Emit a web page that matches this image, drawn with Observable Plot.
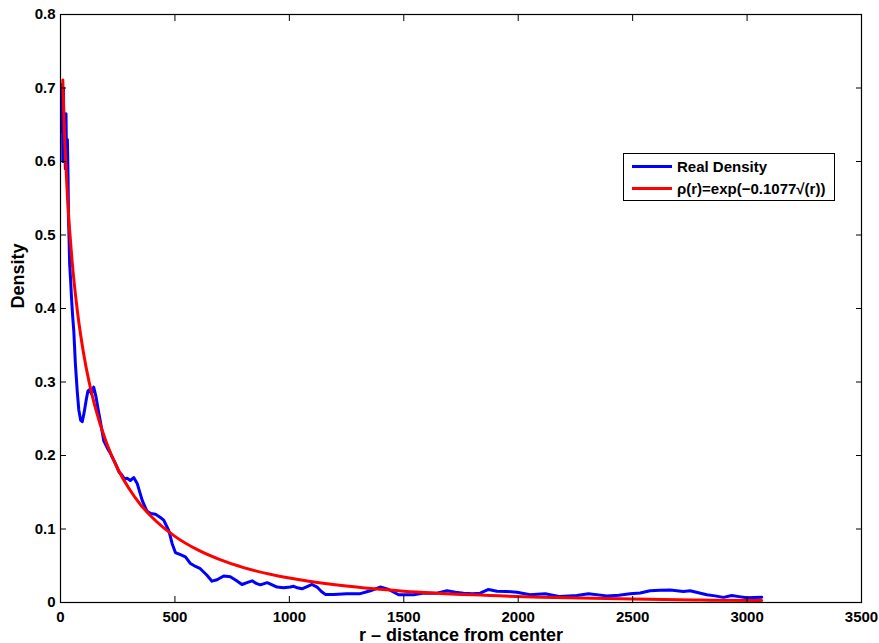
<!DOCTYPE html>
<html>
<head>
<meta charset="utf-8">
<script src="https://cdn.jsdelivr.net/npm/d3@7"></script>
<script src="https://cdn.jsdelivr.net/npm/@observablehq/plot@0.6"></script>
<style>
  html, body { margin: 0; padding: 0; background: #fff; }
  #wrap { position: relative; width: 879px; height: 643px; font-family: "Liberation Sans", Arial, Helvetica, sans-serif; }
  #legend { position: absolute; left: 623px; top: 153px; width: 210px; height: 46px; border: 1px solid #000; background: #fff; box-sizing: content-box; }
  #legend svg { display: block; }
</style>
</head>
<body>
<div id="wrap"></div>
<script>
// Real density
const rReal = [5,8,10,13,15,18,21,24,27,30,33,35,37,40,44,48,53,58,65,73,80,88,95,103,112,120,128,135,145,155,165,175,189,205,218,240,255,269,280,291,305,320,335,357,378,395,415,435,451,473,488,502,524,546,568,590,611,640,662,684,713,742,768,793,815,837,855,873,903,925,946,975,1004,1019,1035,1055,1080,1099,1121,1140,1157,1194,1250,1310,1354,1397,1434,1477,1543,1587,1645,1689,1725,1761,1800,1834,1870,1907,1950,1994,2052,2118,2183,2256,2307,2387,2440,2489,2533,2576,2620,2664,2722,2751,2824,2860,2897,2933,2965,2999,3064];
const densityReal = [0.64,0.705,0.60,0.70,0.61,0.665,0.59,0.665,0.585,0.63,0.58,0.52,0.50,0.46,0.44,0.415,0.39,0.37,0.325,0.288,0.262,0.248,0.246,0.258,0.275,0.288,0.29,0.284,0.293,0.28,0.262,0.245,0.220,0.21,0.203,0.189,0.178,0.173,0.168,0.169,0.166,0.170,0.162,0.139,0.124,0.121,0.120,0.116,0.112,0.098,0.080,0.068,0.065,0.062,0.053,0.049,0.046,0.037,0.029,0.031,0.036,0.035,0.030,0.0245,0.027,0.0295,0.026,0.024,0.027,0.024,0.021,0.020,0.021,0.022,0.020,0.0186,0.022,0.0245,0.021,0.015,0.011,0.011,0.012,0.012,0.016,0.021,0.0177,0.0105,0.0105,0.013,0.0127,0.016,0.014,0.0127,0.012,0.0127,0.0177,0.0154,0.015,0.014,0.0105,0.012,0.008,0.0095,0.012,0.009,0.010,0.012,0.013,0.016,0.0165,0.017,0.015,0.016,0.0105,0.009,0.007,0.0095,0.008,0.0064,0.0072];

// Fitted curve rho(r)
const rFit = [10,15,20,30,40,50,75,100,125,150,200,250,300,350,400,500,600,700,800,1000,1200,1500,1800,2100,2500,2800,3064];
const densityFit = [0.711,0.659,0.618,0.554,0.506,0.467,0.3935,0.3406,0.300,0.2674,0.218,0.182,0.1548,0.133,0.116,0.090,0.0715,0.0579,0.0475,0.0332,0.0240,0.0154,0.0104,0.0072,0.0046,0.0033,0.0026];

const xTicks = [0,500,1000,1500,2000,2500,3000,3500];
const yTicks = [0,0.1,0.2,0.3,0.4,0.5,0.6,0.7,0.8];
const yTickLabels = ["0","0.1","0.2","0.3","0.4","0.5","0.6","0.7","0.8"];

const xLabel = "r \u2013 distance from center";
const yLabel = "Density";
const legendLabels = ["Real Density", "\u03c1(r)=exp(\u22120.1077\u221a(r))"];
const legendColors = ["#0000ff", "#ff0000"];

const realData = rReal.map((r, i) => ({r, d: densityReal[i]}));
const fitData = rFit.map((r, i) => ({r, d: densityFit[i]}));

const fontFamily = "'Liberation Sans', Arial, Helvetica, sans-serif";

const chart = Plot.plot({
  width: 879,
  height: 643,
  marginLeft: 60,
  marginRight: 18,
  marginTop: 14,
  marginBottom: 41,
  style: {fontFamily, fontWeight: "bold", fontSize: "15px", color: "#000", background: "#fff"},
  x: {domain: [0, 3500]},
  y: {domain: [0, 0.8]},
  marks: [
    Plot.line(realData, {x: "r", y: "d", stroke: legendColors[0], strokeWidth: 3, curve: "linear"}),
    Plot.line(fitData, {x: "r", y: "d", stroke: legendColors[1], strokeWidth: 3, curve: "monotone-x"}),
    // inward ticks on all four sides
    Plot.axisX({ticks: xTicks, tickSize: -6, tickFormat: () => "", label: null, anchor: "bottom"}),
    Plot.axisX({ticks: xTicks, tickSize: -6, tickFormat: () => "", label: null, anchor: "top"}),
    Plot.axisY({ticks: yTicks, tickSize: -6, tickFormat: () => "", label: null, anchor: "left"}),
    Plot.axisY({ticks: yTicks, tickSize: -6, tickFormat: () => "", label: null, anchor: "right"}),
    // tick labels
    Plot.axisX({ticks: xTicks, tickSize: 0, tickPadding: 9, tickFormat: d => String(d), label: null, anchor: "bottom", fontSize: 15, fontWeight: "bold"}),
    Plot.axisY({ticks: yTicks, tickSize: 0, tickPadding: 5, tickFormat: (d, i) => yTickLabels[yTicks.indexOf(d)], label: null, anchor: "left", fontSize: 15, fontWeight: "bold"}),
    Plot.frame({stroke: "#000", strokeWidth: 1.2}),
    Plot.text([xLabel], {text: d => d, frameAnchor: "bottom", dy: 38, fontSize: 18, fontWeight: "bold", fill: "#000"}),
    Plot.text([yLabel], {text: d => d, frameAnchor: "left", dx: -42, rotate: -90, fontSize: 18, fontWeight: "bold", fill: "#000"})
  ]
});

const wrap = document.getElementById("wrap");
wrap.appendChild(chart);

// legend box
const leg = document.createElement("div");
leg.id = "legend";
const ns = "http://www.w3.org/2000/svg";
const lsvg = document.createElementNS(ns, "svg");
lsvg.setAttribute("width", 210);
lsvg.setAttribute("height", 46);
legendLabels.forEach((lab, i) => {
  const cy = 12.5 + i * 22;
  const ln = document.createElementNS(ns, "line");
  ln.setAttribute("x1", 8); ln.setAttribute("x2", 48);
  ln.setAttribute("y1", cy); ln.setAttribute("y2", cy);
  ln.setAttribute("stroke", legendColors[i]);
  ln.setAttribute("stroke-width", 3);
  lsvg.appendChild(ln);
  const t = document.createElementNS(ns, "text");
  t.setAttribute("x", 53);
  t.setAttribute("y", cy);
  t.setAttribute("dy", "0.35em");
  t.setAttribute("font-family", fontFamily);
  t.setAttribute("font-weight", "bold");
  t.setAttribute("font-size", 15);
  t.textContent = lab;
  lsvg.appendChild(t);
});
leg.appendChild(lsvg);
wrap.appendChild(leg);
</script>
</body>
</html>
